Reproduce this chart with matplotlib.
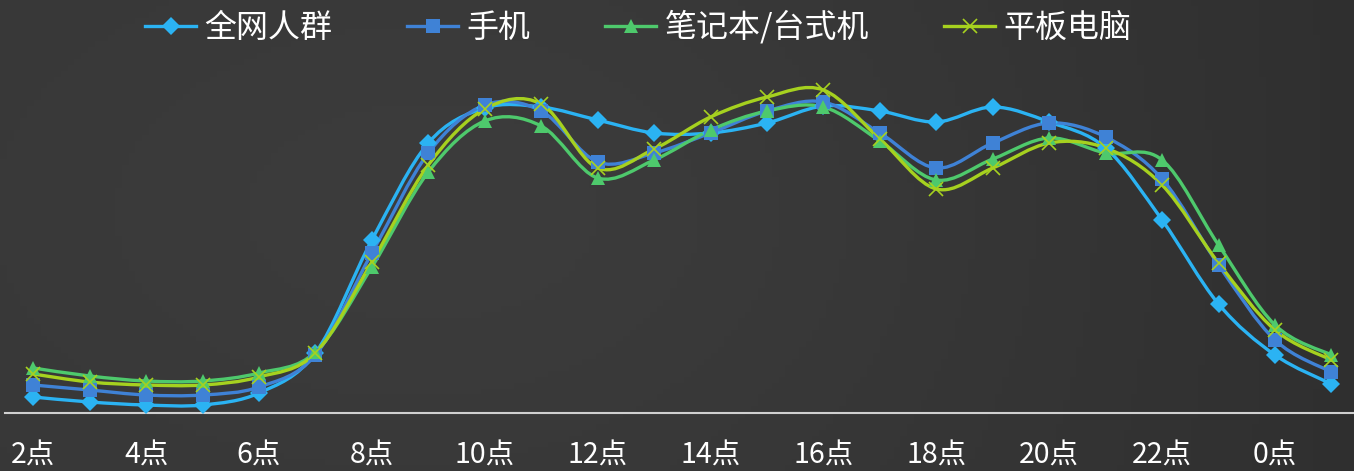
import matplotlib
matplotlib.use("Agg")
import matplotlib.pyplot as plt
import numpy as np
from matplotlib.path import Path
from matplotlib.patches import PathPatch
from matplotlib.lines import Line2D

plt.rcParams['font.family'] = ['Noto Sans CJK SC', 'DejaVu Sans']

hours = ["2点", "3点", "4点", "5点", "6点", "7点", "8点", "9点", "10点", "11点", "12点", "13点",
         "14点", "15点", "16点", "17点", "18点", "19点", "20点", "21点", "22点", "23点", "0点", "1点"]

all_users = [16, 11, 8, 8, 20, 60, 173, 270, 305, 306, 293, 280,
             280, 290, 307, 302, 291, 306, 291, 265, 193, 109, 58, 29]
mobile = [28, 23, 18, 18, 26, 58, 160, 260, 308, 302, 251, 260,
          280, 302, 311, 280, 245, 270, 290, 276, 234, 148, 73, 41]
laptop = [45, 37, 32, 32, 40, 61, 146, 241, 292, 287, 235, 253,
          283, 302, 306, 272, 233, 254, 275, 260, 253, 168, 88, 58]
tablet = [39, 31, 28, 28, 36, 60, 151, 248, 304, 309, 245, 264,
          296, 316, 323, 274, 224, 245, 270, 265, 228, 150, 83, 53]

series = [
    ("全网人群", all_users, "#2bb3f3", "D", 9),
    ("手机", mobile, "#3f82d6", "s", 10),
    ("笔记本/台式机", laptop, "#4ec96c", "^", 10),
    ("平板电脑", tablet, "#a6d11f", "x", 10),
]


def smooth_path(xs, ys):
    # Excel-style smoothed line as cubic bezier segments
    pts = np.column_stack([xs, ys]).astype(float)
    n = len(pts)
    verts = [pts[0]]
    codes = [Path.MOVETO]
    for i in range(n - 1):
        p0 = pts[i - 1] if i > 0 else pts[i]
        p1, p2 = pts[i], pts[i + 1]
        p3 = pts[i + 2] if i + 2 < n else pts[i + 1]
        c1 = p1 + (p2 - p0) / 6.0
        c2 = p2 - (p3 - p1) / 6.0
        verts += [c1, c2, p2]
        codes += [Path.CURVE4] * 3
    return Path(verts, codes)


W, H = 1354, 471
fig = plt.figure(figsize=(W / 100, H / 100), dpi=100)

# dark background with a soft gradient
bg = fig.add_axes([0, 0, 1, 1])
gx = np.linspace(0, 1, 200)
gy = np.linspace(0, 1, 80)
GX, GY = np.meshgrid(gx, gy)
shade = 0.215 + 0.02 * np.exp(-((GX - 0.35) ** 2 / 0.15 + (GY - 0.55) ** 2 / 0.4)) - 0.03 * GX ** 3
bg.imshow(np.dstack([shade] * 3), aspect="auto", extent=[0, 1, 0, 1], origin="lower")
bg.axis("off")

ax = fig.add_axes([5 / W, (H - 413) / H, 1 - 5 / W, 413 / H])
ax.patch.set_alpha(0)
x = np.arange(len(hours))

handles = []
for name, vals, color, marker, ms in series:
    patch = PathPatch(smooth_path(x, vals), fill=False, edgecolor=color, lw=2.4,
                      capstyle="round", joinstyle="round", zorder=3)
    ax.add_patch(patch)
    if marker == "x":
        ax.plot(x, vals, ls="none", marker=marker, ms=ms, mew=1.2, color=color, zorder=4)
    else:
        ax.plot(x, vals, ls="none", marker=marker, ms=ms, mew=0, color=color, zorder=4)
    handles.append(Line2D([], [], color=color, lw=2.4, marker=marker, ms=ms,
                          mew=1.2 if marker == "x" else 0, label=name))

ax.set_xlim(-0.5, 23.4)
ax.set_ylim(0, 413)
ax.set_xticks(x[::2])
ax.set_xticklabels(hours[::2], color="white", fontsize=20.5)
ax.tick_params(axis="x", length=0, pad=20)
ax.set_yticks([])
for side in ["top", "right", "left"]:
    ax.spines[side].set_visible(False)
ax.spines["bottom"].set_color("#d0d0d0")
ax.spines["bottom"].set_linewidth(1.5)

leg = fig.legend(handles=handles, loc="center", bbox_to_anchor=(638 / W, 1 - 27 / H),
                 ncol=4, frameon=False, fontsize=23, labelcolor="white",
                 handlelength=1.6, handletextpad=0.25, columnspacing=2.35,
                 borderaxespad=0, borderpad=0)

fig.savefig("out.png", dpi=100)
